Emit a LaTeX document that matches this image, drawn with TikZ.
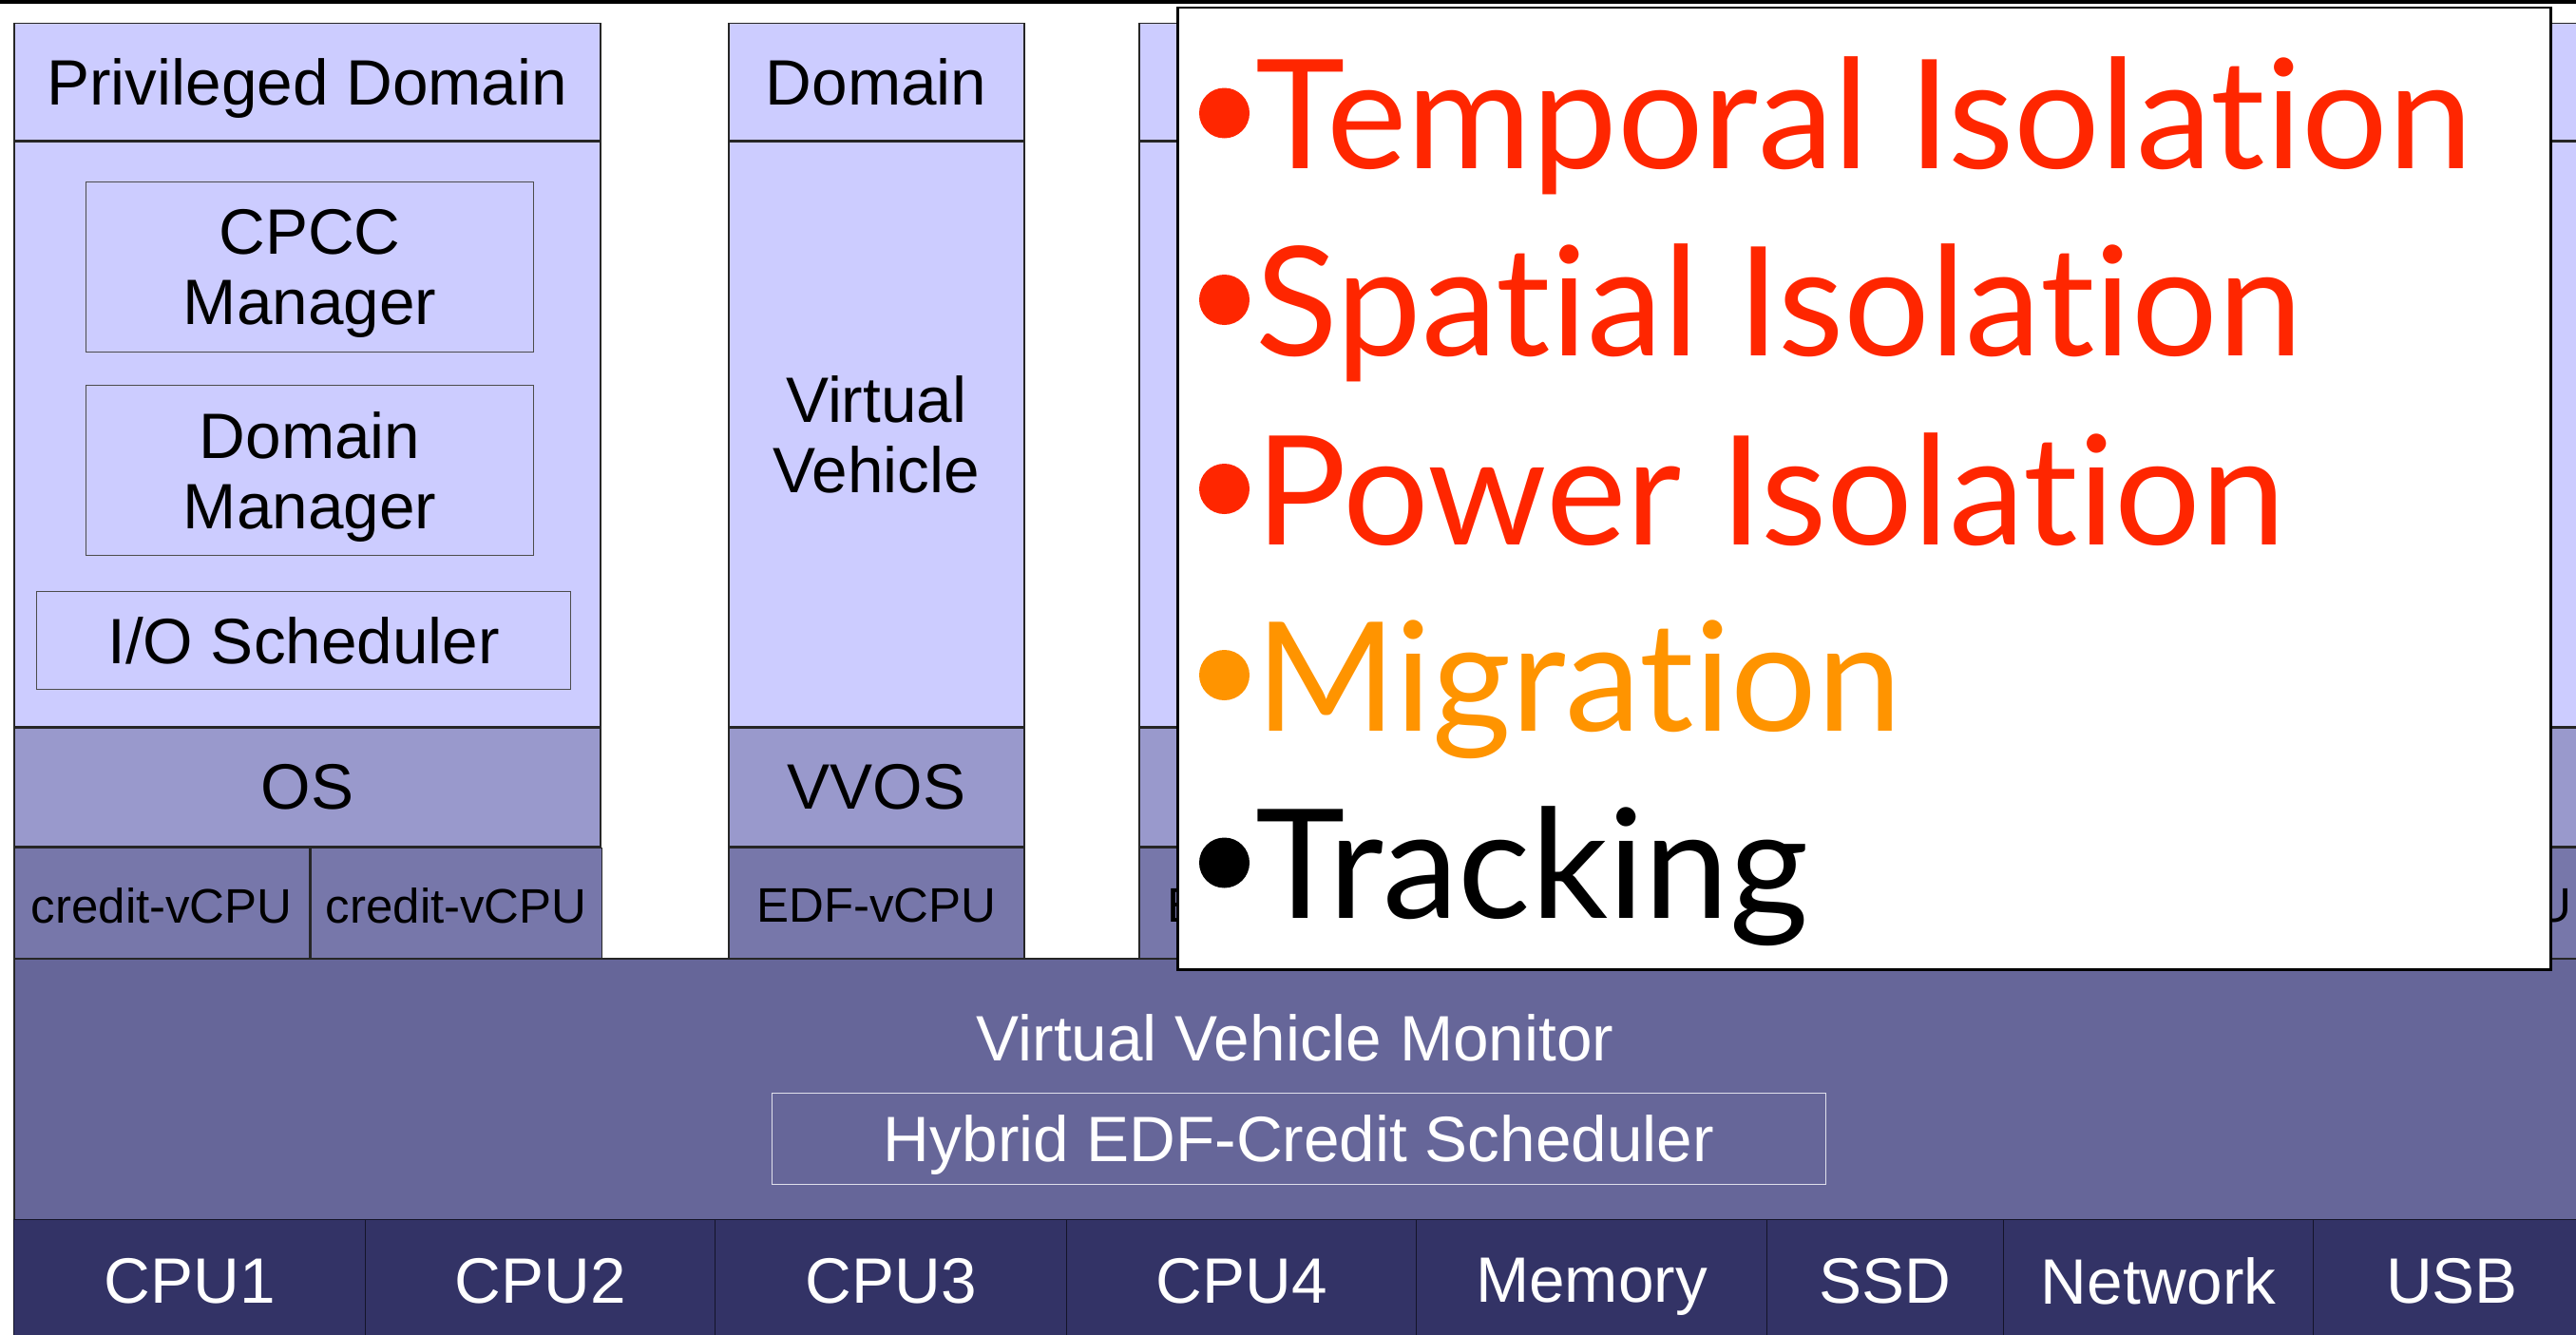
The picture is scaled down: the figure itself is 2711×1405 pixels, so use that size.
\documentclass[tikz,border=0pt]{standalone}
\usepackage{fontspec}
\setmainfont{Liberation Sans}
\newfontfamily\itemfont[Ligatures=NoCommon]{Lato}
\usetikzlibrary{positioning,shadows}

\definecolor{vvlight}{HTML}{CCCCFF}
\definecolor{vvos}{HTML}{9999CC}
\definecolor{vvcpu}{HTML}{7777AA}
\definecolor{vvmon}{HTML}{666699}
\definecolor{vvhw}{HTML}{333366}
\definecolor{isored}{HTML}{FF2600}
\definecolor{isoorange}{HTML}{FF9400}

\tikzset{
  cell/.style={draw=black!85, line width=1.5pt, inner sep=0pt, anchor=north west,
    align=center, text depth=0pt, font=\fontsize{67.5}{74}\selectfont},
  cpucell/.style={cell, fill=vvcpu, minimum height=121pt, font=\fontsize{51}{56}\selectfont},
  inbox/.style={cell, draw=black!70, line width=1.2pt, minimum width=471pt, minimum height=179pt},
  hwcell/.style={cell, fill=vvhw, draw=black!60!vvhw, line width=1.2pt, text=white, minimum height=128pt},
  item/.style={inner sep=0pt, anchor=base west, font=\itemfont\fontsize{160}{190}\selectfont}
}

\begin{document}
\begin{tikzpicture}[x=1pt, y=-1pt]
  \useasboundingbox (0,0) rectangle (2711,1405);
  \clip (0,0) rectangle (2711,1405);
  \fill[black] (0,0) rectangle (2711,4.5);

  % Privileged domain
  \node[cell, fill=vvlight, minimum width=617pt, minimum height=123pt] (pdhead) at (14,24) {Privileged Domain};
  \node[cell, fill=vvlight, minimum width=617pt, minimum height=615pt, below=0pt of pdhead] (pdbody) {};
  \node[cell, fill=vvos, minimum width=617pt, minimum height=125pt, below=0pt of pdbody] (pdos) {OS};
  \node[cpucell, minimum width=311pt] (pdcpua) at (pdos.south west) {credit-vCPU};
  \node[cpucell, minimum width=306pt, right=0pt of pdcpua] (pdcpub) {credit-vCPU};
  \node[inbox] (cpcc) at (90,191) {CPCC\\Manager};
  \node[inbox] (dommgr) at (90,405) {Domain\\Manager};
  \node[inbox, minimum width=562pt, minimum height=103pt] (iosched) at (38,622) {I/O Scheduler};

  % Domains
  \node[cell, fill=vvlight, minimum width=311pt, minimum height=123pt] (dhead) at (766,24) {Domain};
  \node[cell, fill=vvlight, minimum width=311pt, minimum height=615pt, below=0pt of dhead] (dbody) {Virtual\\Vehicle};
  \node[cell, fill=vvos, minimum width=311pt, minimum height=125pt, below=0pt of dbody] (dos) {VVOS};
  \node[cpucell, minimum width=311pt, below=0pt of dos] (dcpu) {EDF-vCPU};
  \foreach \x/\n in {1198/db, 2424/dc} {
    \node[cell, fill=vvlight, minimum width=311pt, minimum height=123pt] (\n head) at (\x,24) {};
    \node[cell, fill=vvlight, minimum width=311pt, minimum height=615pt, below=0pt of \n head] (\n body) {};
    \node[cell, fill=vvos, minimum width=311pt, minimum height=125pt, below=0pt of \n body] (\n os) {};
    \node[cpucell, minimum width=311pt, below=0pt of \n os] (\n cpu) {EDF-vCPU};
  }

  % Monitor
  \node[cell, fill=vvmon, minimum width=2720pt, minimum height=275pt] (vvm) at (14,1008) {};
  \node[cell, draw=none, anchor=center, text=white] (vvmlabel) at (1363,1092) {Virtual Vehicle Monitor};
  \node[cell, anchor=center, draw=white!80!vvmon, line width=1.2pt, text=white,
    minimum width=1109pt, minimum height=96pt] (hybrid) at (1367,1198.5) {Hybrid EDF-Credit Scheduler};

  % Hardware
  \foreach \l/\w/\t/\n in {14/370/CPU1/cpu1, 384/368/CPU2/cpu2, 752/370/CPU3/cpu3, 1122/368/CPU4/cpu4,
      1490/369/Memory/mem, 1859/249/SSD/ssd, 2108/326/Network/net, 2434/292/USB/usb} {
    \node[hwcell, minimum width=\w pt] (\n) at (\l,1283) {\t};
  }

  % Isolation list
  \node[draw=black, line width=2.5pt, fill=white, inner sep=0pt, anchor=north west,
    minimum width=1445pt, minimum height=1012pt,
    drop shadow={shadow xshift=2pt, shadow yshift=-2pt, fill=black!60, opacity=1}] (isobox) at (1238,7) {};
  \foreach \y/\c/\t [count=\i] in {177.5/isored/Temporal Isolation, 374/isored/Spatial Isolation,
      573/isored/Power Isolation, 769/isoorange/Migration, 966.5/black/Tracking} {
    \fill[\c] (1288.5,\y-58.5) circle (26.5);
    \node[item, text=\c] (item\i) at (1321,\y) {\t};
  }
\end{tikzpicture}
\end{document}
